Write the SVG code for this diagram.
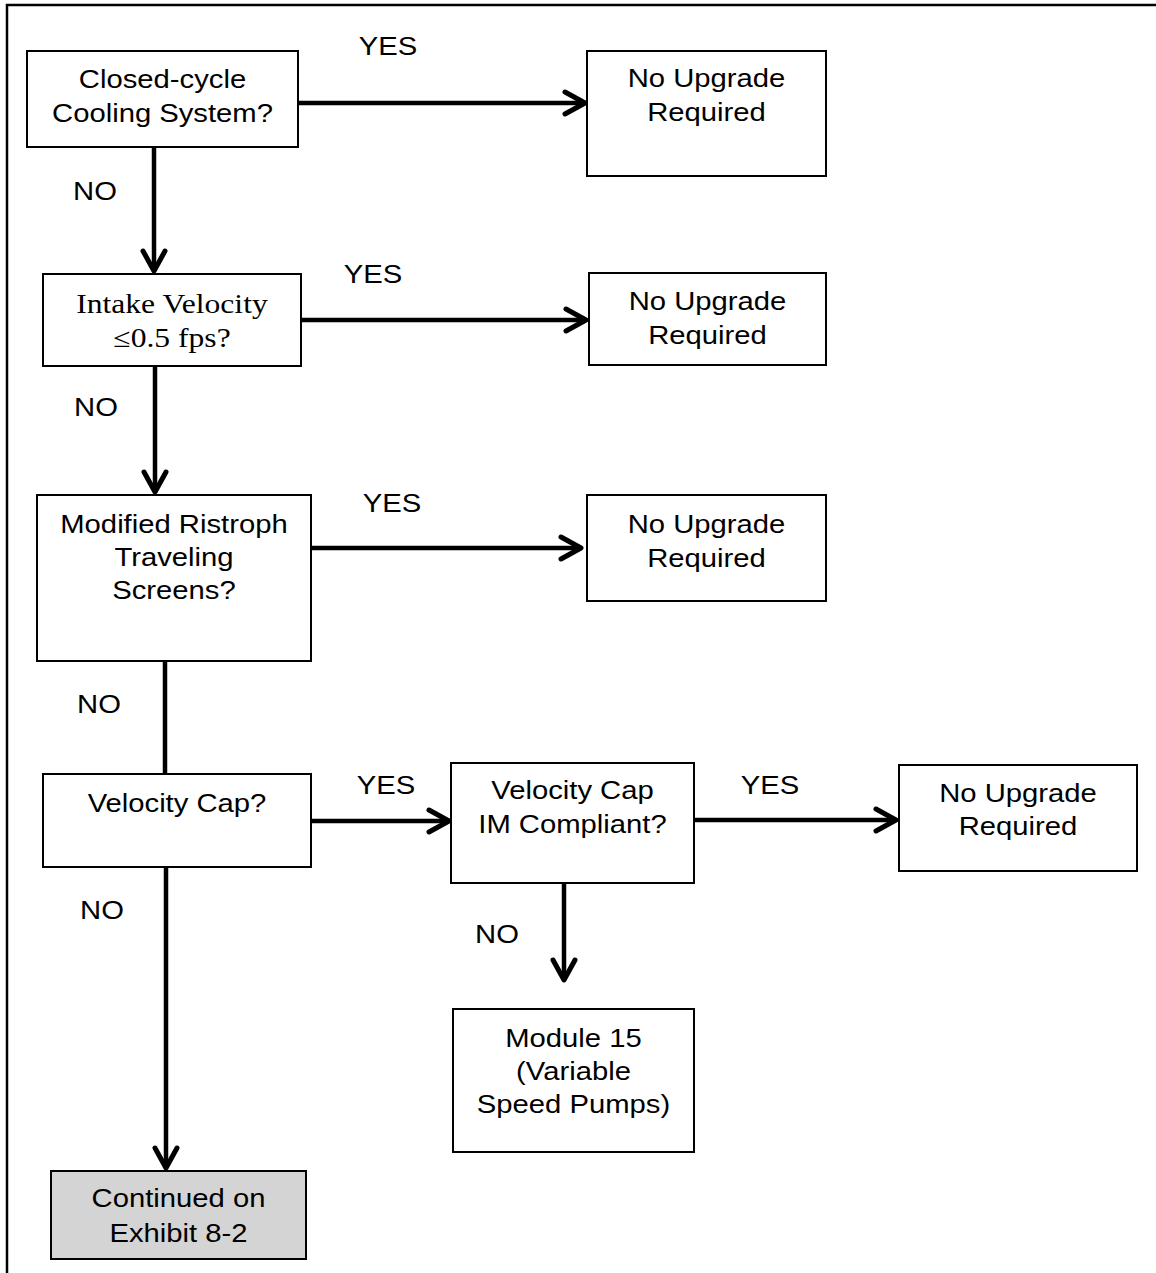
<svg xmlns="http://www.w3.org/2000/svg" width="1156" height="1273" viewBox="0 0 1156 1273">
<style>
.box{fill:#fff;stroke:#000;stroke-width:2}
.grey{fill:#d4d4d4;stroke:#000;stroke-width:2}
text{font-family:"Liberation Sans",Arial,sans-serif;font-size:25px;fill:#000;text-anchor:middle;transform-box:fill-box;transform-origin:center;transform:scaleX(1.17)}
text.tm{font-family:"Liberation Serif","Times New Roman",serif;font-size:27px}
.con{fill:none;stroke:#000;stroke-width:4.5}
.arr{marker-end:url(#ah)}
</style>
<defs>
<marker id="ah" markerUnits="userSpaceOnUse" markerWidth="30" markerHeight="30" viewBox="-24 -15 28 30" refX="0" refY="0" orient="auto">
<path d="M-20,-11 L0,0 L-20,11" fill="none" stroke="#000" stroke-width="5" stroke-linecap="round" stroke-linejoin="round"/>
</marker>
</defs>
<rect width="1156" height="1273" fill="#fff"/>
<path d="M7,1273 V5 H1156" fill="none" stroke="#000" stroke-width="2.5"/>

<g id="connectors">
<path class="con arr" d="M298,103 H585"/>
<path class="con arr" d="M154,147 V271"/>
<path class="con arr" d="M301,320 H586"/>
<path class="con arr" d="M155,366 V492"/>
<path class="con arr" d="M311,548 H581"/>
<path class="con" d="M165,662 V774"/>
<path class="con arr" d="M311,821 H449"/>
<path class="con arr" d="M694,820 H896"/>
<path class="con arr" d="M564,883 V980"/>
<path class="con arr" d="M166,867 V1168"/>
</g>

<g id="labels">
<text x="388" y="55">YES</text>
<text x="95" y="200">NO</text>
<text x="373" y="283">YES</text>
<text x="96" y="416">NO</text>
<text x="392" y="512">YES</text>
<text x="99" y="713">NO</text>
<text x="386" y="794">YES</text>
<text x="770" y="794">YES</text>
<text x="102" y="919">NO</text>
<text x="497" y="943">NO</text>
</g>

<g id="closed-cycle">
<rect class="box" x="27" y="51" width="271" height="96"/>
<text x="162.5" y="88">Closed-cycle</text>
<text x="162.5" y="122">Cooling System?</text>
</g>
<g id="no-upgrade-1">
<rect class="box" x="587" y="51" width="239" height="125"/>
<text x="706.5" y="87">No Upgrade</text>
<text x="706.5" y="121">Required</text>
</g>
<g id="intake-velocity">
<rect class="box" x="43" y="274" width="258" height="92"/>
<text class="tm" x="172" y="313">Intake Velocity</text>
<text class="tm" x="172" y="347">≤0.5 fps?</text>
</g>
<g id="no-upgrade-2">
<rect class="box" x="589" y="273" width="237" height="92"/>
<text x="707.5" y="310">No Upgrade</text>
<text x="707.5" y="344">Required</text>
</g>
<g id="ristroph">
<rect class="box" x="37" y="495" width="274" height="166"/>
<text x="174" y="533">Modified Ristroph</text>
<text x="174" y="566">Traveling</text>
<text x="174" y="599">Screens?</text>
</g>
<g id="no-upgrade-3">
<rect class="box" x="587" y="495" width="239" height="106"/>
<text x="706.5" y="533">No Upgrade</text>
<text x="706.5" y="567">Required</text>
</g>
<g id="velocity-cap">
<rect class="box" x="43" y="774" width="268" height="93"/>
<text x="177" y="812">Velocity Cap?</text>
</g>
<g id="im-compliant">
<rect class="box" x="451" y="763" width="243" height="120"/>
<text x="572.5" y="799">Velocity Cap</text>
<text x="572.5" y="833">IM Compliant?</text>
</g>
<g id="no-upgrade-4">
<rect class="box" x="899" y="765" width="238" height="106"/>
<text x="1018" y="802">No Upgrade</text>
<text x="1018" y="835">Required</text>
</g>
<g id="module-15">
<rect class="box" x="453" y="1009" width="241" height="143"/>
<text x="573.5" y="1047">Module 15</text>
<text x="573.5" y="1080">(Variable</text>
<text x="573.5" y="1113">Speed Pumps)</text>
</g>
<g id="continued">
<rect class="grey" x="51" y="1171" width="255" height="88"/>
<text x="178.5" y="1207">Continued on</text>
<text x="178.5" y="1242">Exhibit 8-2</text>
</g>
</svg>
